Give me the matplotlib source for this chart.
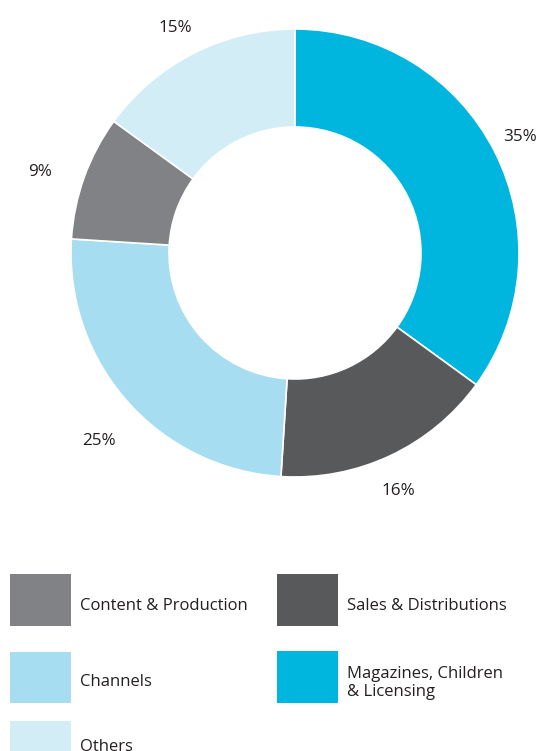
import matplotlib
matplotlib.use("Agg")
import matplotlib.pyplot as plt
from matplotlib.patches import Rectangle
import numpy as np

plt.rcParams['font.family'] = ['Open Sans', 'DejaVu Sans']

# Segments in clockwise order from 12 o'clock
segments = ["Magazines, Children\n& Licensing", "Sales & Distributions",
            "Channels", "Content & Production", "Others"]
shares = [35, 16, 25, 9, 15]
colors = ["#00B5DE", "#58595B", "#A6DDF0", "#808285", "#D3EDF6"]
pct_labels = ["35%", "16%", "25%", "9%", "15%"]

# Label placement: radial distance (in radii) and angular nudge (deg)
label_dist = [1.135, 1.153, 1.209, 1.194, 1.145]
label_nudge = [0.5, -1.6, 2.1, 1.9, 0.8]

TEXT = "#231F20"
W, H = 544, 751

fig = plt.figure(figsize=(W / 100, H / 100), dpi=100)
ax = fig.add_axes([0, 0, 1, 1])

cx, cy, R = 295, H - 253, 224
wedges, _ = ax.pie(shares, colors=colors, startangle=90, counterclock=False,
                   center=(cx, cy), radius=R, frame=True,
                   wedgeprops=dict(width=R - 126, edgecolor="white", linewidth=1.2))
ax.set_xlim(0, W)
ax.set_ylim(0, H)
ax.set_aspect("auto")
ax.axis("off")

# Percentage labels placed outside each wedge's midpoint
for w, lab, d, nd in zip(wedges, pct_labels, label_dist, label_nudge):
    mid = np.deg2rad((w.theta1 + w.theta2) / 2 + nd)
    r = R * d
    ax.text(cx + r * np.cos(mid), cy + r * np.sin(mid) - 1.5, lab,
            ha="center", va="center", fontsize=12.3, color=TEXT)

# Legend laid out in two columns: (x, top, height, text offset from top)
legend_order = [3, 1, 2, 0, 4]
slots = [(10, 574, 52, 32), (277, 574, 52, 32), (10, 652, 51, 30),
         (277, 651, 52, 32), (10, 721, 52, 26)]
for idx, (x0, y0, h, toff) in zip(legend_order, slots):
    ax.add_patch(Rectangle((x0, H - y0 - h), 61, h, facecolor=colors[idx],
                           edgecolor="none", clip_on=False))
    ax.text(x0 + 70, H - (y0 + toff), segments[idx], ha="left", va="center",
            fontsize=12, color=TEXT, linespacing=1.25)

fig.savefig("out.png", dpi=100)
